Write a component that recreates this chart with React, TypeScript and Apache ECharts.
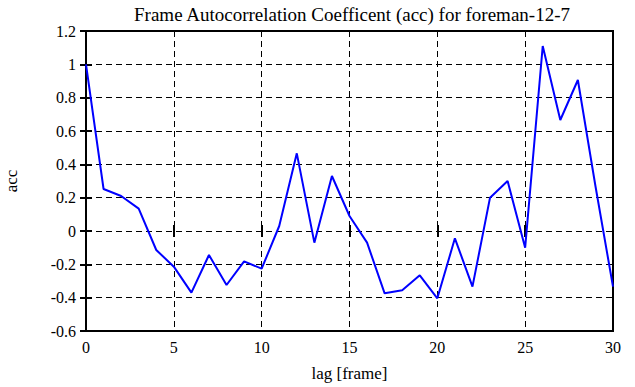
import React, { useEffect, useRef } from "react";
import * as echarts from "echarts";

const lags = [0,1,2,3,4,5,6,7,8,9,10,11,12,13,14,15,16,17,18,19,20,21,22,23,24,25,26,27,28,29,30];
const acc = [1.0,0.252,0.21,0.134,-0.114,-0.214,-0.37,-0.144,-0.324,-0.182,-0.226,0.03,0.466,-0.07,0.33,0.09,-0.07,-0.374,-0.356,-0.266,-0.404,-0.044,-0.334,0.2,0.3,-0.1,1.11,0.666,0.906,0.27,-0.334];
const titleText = "Frame Autocorrelation Coefficent (acc) for foreman-12-7";
const xName = "lag [frame]";
const yName = "acc";

const FONT = "Liberation Serif";

export default function App() {
  const ref = useRef<HTMLDivElement>(null);
  useEffect(() => {
    if (!ref.current) return;
    const chart = echarts.init(ref.current, null, { renderer: "svg" });
    const data = lags.map((l, i) => [l, acc[i]]);
    const fmtY = (v: number) => String(parseFloat(v.toFixed(1)));
    const tick = { show: true, inside: true, length: 6, lineStyle: { color: "#000", width: 2 } };
    chart.setOption({
      animation: false,
      backgroundColor: "#fff",
      textStyle: { fontFamily: FONT, color: "#000" },
      title: {
        text: titleText,
        left: 347,
        textAlign: "center",
        top: 0,
        textStyle: { fontFamily: FONT, fontSize: 19, fontWeight: "normal", color: "#000" },
      },
      grid: {
        left: 86, right: 22, top: 31, bottom: 56,
        show: true, borderColor: "#000", borderWidth: 2, containLabel: false,
        outerBoundsMode: "none",
      },
      xAxis: [
        {
          type: "value", min: 0, max: 30, interval: 5,
          name: xName, nameLocation: "middle", nameGap: 34,
          nameTextStyle: { fontFamily: FONT, fontSize: 17, color: "#000" },
          axisLine: { show: false },
          axisTick: tick,
          axisLabel: { fontFamily: FONT, fontSize: 16, color: "#000", margin: 8 },
          splitLine: { show: true, showMinLine: false, showMaxLine: false, lineStyle: { color: "#000", type: [6, 4], width: 1 } },
        },
        {
          type: "value", min: 0, max: 30, interval: 5, position: "top",
          axisLine: { show: false }, axisTick: tick, axisLabel: { show: false }, splitLine: { show: false },
        },
      ],
      yAxis: [
        {
          type: "value", min: -0.6, max: 1.2, interval: 0.2,
          name: yName, nameLocation: "middle", nameGap: 66, nameRotate: 90,
          nameTextStyle: { fontFamily: FONT, fontSize: 17, color: "#000" },
          axisLine: { show: false },
          axisTick: tick,
          axisLabel: { fontFamily: FONT, fontSize: 16, color: "#000", margin: 10, formatter: fmtY },
          splitLine: { show: true, showMinLine: false, showMaxLine: false, lineStyle: { color: "#000", type: [6, 4], width: 1 } },
        },
        {
          type: "value", min: -0.6, max: 1.2, interval: 0.2, position: "right",
          axisLine: { show: false }, axisTick: tick, axisLabel: { show: false }, splitLine: { show: false },
        },
      ],
      series: [
        {
          type: "line",
          data,
          xAxisIndex: 0, yAxisIndex: 0,
          showSymbol: false,
          lineStyle: { color: "#0000ff", width: 2 },
          itemStyle: { color: "#0000ff" },
        },
      ],
    });
    return () => chart.dispose();
  }, []);
  return <div ref={ref} style={{ width: 635, height: 387, position: "absolute", left: 0, top: 0 }} />;
}
